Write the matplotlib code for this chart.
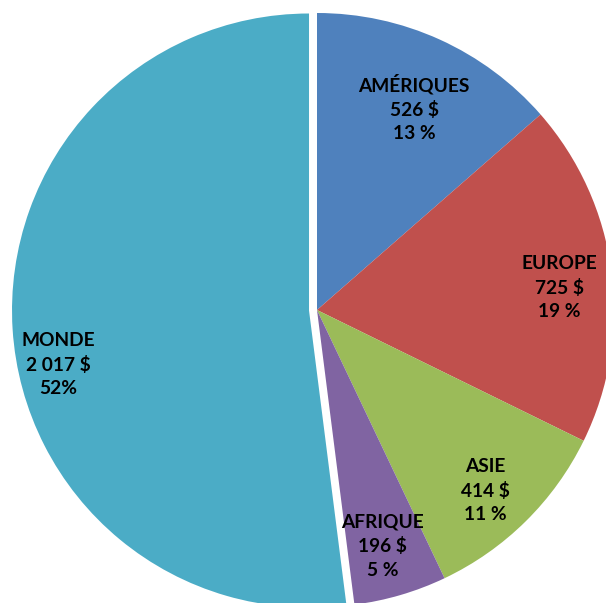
import matplotlib
matplotlib.use("Agg")
import matplotlib.pyplot as plt
import numpy as np

regions = ["AMÉRIQUES", "EUROPE", "ASIE", "AFRIQUE", "MONDE"]
amounts = [526, 725, 414, 196, 2017]
amount_labels = ["526 $", "725 $", "414 $", "196 $", "2 017 $"]
pct_labels = ["13 %", "19 %", "11 %", "5 %", "52%"]
colors = ["#4F81BD", "#C0504D", "#9BBB59", "#8064A2", "#4BACC6"]

R = 297
explode = [0, 0, 0, 0, 8]          # offset in pixels (data units)
label_radii = [0.755, 0.82, 0.83, 0.825, 0.865]
label_angle_shift = [-1.3, -2.3, -1.7, -0.8, 8.6]

fig = plt.figure(figsize=(6.06, 6.03), dpi=100)
ax = fig.add_axes([0, 0, 1, 1])

cx, cy = 317, 603 - 310
wedges, _ = ax.pie(amounts, colors=colors, startangle=90, counterclock=False,
                   explode=explode, radius=R, center=(cx, cy),
                   wedgeprops=dict(linewidth=0), frame=False)
ax.set_xlim(0, 606)
ax.set_ylim(0, 603)
ax.set_aspect("equal")
ax.axis("off")

for w, reg, a, p, rr, sh in zip(wedges, regions, amount_labels, pct_labels,
                                label_radii, label_angle_shift):
    ang = np.deg2rad((w.theta1 + w.theta2) / 2 + sh)
    x = w.center[0] + rr * R * np.cos(ang)
    y = w.center[1] + rr * R * np.sin(ang)
    ax.text(x, y, f"{reg}\n{a}\n{p}", ha="center", va="center",
            fontsize=13.8, fontweight="bold", family=["Lato", "DejaVu Sans"],
            linespacing=1.45, color="black")

fig.savefig("out.png", dpi=100)
